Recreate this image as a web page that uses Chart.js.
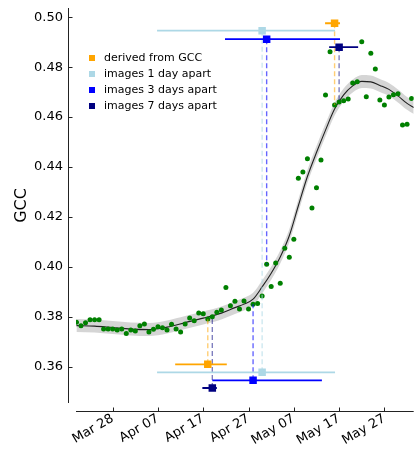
<!DOCTYPE html>
<html>
<head>
<meta charset="utf-8">
<script src="https://cdn.jsdelivr.net/npm/chart.js@4.4.1/dist/chart.umd.min.js"></script>
<style>
  html, body { margin:0; padding:0; background:#fff; }
  #wrap { position:relative; width:419px; height:452px; }
  #legend { position:absolute; left:89px; top:50px; font:11px "DejaVu Sans", sans-serif; color:#000; }
  #legend div { height:15.9px; display:flex; align-items:center; white-space:nowrap; }
  #legend span { display:inline-block; width:6px; height:6px; margin-right:9px; }
</style>
</head>
<body>
<div id="wrap"><canvas id="c" width="419" height="452"></canvas><div id="legend"></div></div>
<script>
// daily GCC observations, first one on Mar 20 (day of year 79)
const firstDay = 79;
const gcc = [
  0.3778, 0.3764, 0.3776, 0.3788, 0.3788, 0.3788, 0.3751, 0.3751, 0.3751, 0.3747,
  0.3751, 0.3733, 0.3747, 0.3743, 0.3764, 0.3771, 0.3739, 0.3750, 0.3760, 0.3756,
  0.3747, 0.3770, 0.3751, 0.3739, 0.3771, 0.3795, 0.3784, 0.3815, 0.3812, 0.3791,
  0.3800, 0.3818, 0.3827, 0.3918, 0.3844, 0.3863, 0.3831, 0.3864, 0.3831, 0.3850,
  0.3854, 0.3884, 0.4011, 0.3922, 0.4016, 0.3935, 0.4075, 0.4039, 0.4111, 0.4355,
  0.4380, 0.4433, 0.4236, 0.4317, 0.4428, 0.4689, 0.4862, 0.4649, 0.4661, 0.4666,
  0.4673, 0.4737, 0.4742, 0.4902, 0.4682, 0.4856, 0.4793, 0.4669, 0.4649, 0.4681,
  0.4690, 0.4694, 0.4568, 0.4571, 0.4675
];

// smoothed fit and its band
const fitDays = [79, 83, 87, 91, 95, 99, 103, 107, 111, 114, 116, 118, 120, 122, 124, 126, 128, 130, 132, 134, 136, 138, 140, 142, 144, 146, 148, 150, 152, 153.5];
const fitGcc  = [0.3765, 0.3763, 0.3757, 0.3751, 0.3749, 0.3759, 0.3777, 0.3795, 0.3815, 0.3837, 0.3851, 0.3871, 0.3920, 0.3975, 0.4040, 0.4125, 0.4245, 0.4362, 0.4458, 0.4548, 0.4632, 0.4689, 0.4725, 0.4743, 0.4741, 0.4727, 0.4711, 0.4685, 0.4655, 0.4638];
const fitLow  = [0.3739, 0.3737, 0.3731, 0.3725, 0.3723, 0.3733, 0.3751, 0.3769, 0.3789, 0.3811, 0.3825, 0.3845, 0.3894, 0.3949, 0.4014, 0.4099, 0.4219, 0.4336, 0.4432, 0.4522, 0.4606, 0.4663, 0.4699, 0.4717, 0.4715, 0.4701, 0.4685, 0.4659, 0.4629, 0.4612];
const fitHigh = [0.3791, 0.3789, 0.3783, 0.3777, 0.3775, 0.3785, 0.3803, 0.3821, 0.3841, 0.3863, 0.3877, 0.3897, 0.3946, 0.4001, 0.4066, 0.4151, 0.4271, 0.4388, 0.4484, 0.4574, 0.4658, 0.4715, 0.4751, 0.4769, 0.4767, 0.4753, 0.4737, 0.4711, 0.4681, 0.4664];

// transition dates per method (start of green-up and end of green-up)
const methods = ['derived from GCC', 'images 1 day apart', 'images 3 days apart', 'images 7 days apart'];
const methodColors = ['#ffa500', '#add8e6', '#0000ff', '#000080'];
const dashColors = ['rgba(255,165,0,0.55)', 'rgba(173,216,230,0.6)', 'rgba(0,0,255,0.6)', 'rgba(0,0,128,0.5)'];
const startDay = [108, 120, 118, 109];
const startVal = [0.3610, 0.3578, 0.3546, 0.3515];
const startLo  = [100.8, 96.8, 109.0, 106.8];
const startHi  = [112.2, 136.1, 133.2, 110.0];
const endDay = [136, 120, 121, 137];
const endVal = [0.4976, 0.4946, 0.4912, 0.4880];
const endLo  = [133.9, 96.8, 111.8, 134.8];
const endHi  = [137.2, 136.1, 137.2, 141.2];

const xTickDays = [87, 97, 107, 117, 127, 137, 147];
const xTickLabels = ['Mar 28', 'Apr 07', 'Apr 17', 'Apr 27', 'May 07', 'May 17', 'May 27'];
const yTicks = [0.36, 0.38, 0.40, 0.42, 0.44, 0.46, 0.48, 0.50];

const FONT = '"DejaVu Sans", sans-serif';

function seg(points, color, width, dash){
  return { type:'line', data:points, borderColor:color, borderWidth:width, borderDash:dash,
           pointRadius:0, fill:false, tension:0 };
}

const datasets = [];
// squares on top
methods.forEach((m,i)=>{
  datasets.push({ type:'line', showLine:false, label:m,
    data:[{x:endDay[i], y:endVal[i]}, {x:startDay[i], y:startVal[i]}],
    pointStyle:'rect', pointRadius:5.3, pointBackgroundColor:methodColors[i],
    pointBorderColor:methodColors[i], pointBorderWidth:0 });
});
// horizontal error bars
methods.forEach((m,i)=>{
  datasets.push(seg([{x:endLo[i], y:endVal[i]}, {x:endHi[i], y:endVal[i]}], methodColors[i], 1.8, []));
  datasets.push(seg([{x:startLo[i], y:startVal[i]}, {x:startHi[i], y:startVal[i]}], methodColors[i], 1.8, []));
});
// dashed connectors down/up to the observation of that day
methods.forEach((m,i)=>{
  datasets.push(seg([{x:endDay[i], y:endVal[i]}, {x:endDay[i], y:gcc[endDay[i]-firstDay]}], dashColors[i], 1.4, [5,3]));
  datasets.push(seg([{x:startDay[i], y:startVal[i]}, {x:startDay[i], y:gcc[startDay[i]-firstDay]}], dashColors[i], 1.4, [5,3]));
});
// observations
datasets.push({ type:'line', showLine:false, data:gcc.map((v,i)=>({x:firstDay+i, y:v})),
  pointRadius:2.5, pointBackgroundColor:'#008000', pointBorderWidth:0 });
// fit line
datasets.push({ type:'line', data:fitDays.map((d,i)=>({x:d, y:fitGcc[i]})),
  borderColor:'#222', borderWidth:1.1, pointRadius:0, cubicInterpolationMode:'monotone' });
// band
datasets.push({ type:'line', data:fitDays.map((d,i)=>({x:d, y:fitHigh[i]})),
  borderWidth:0, borderColor:'rgba(0,0,0,0)', pointRadius:0, cubicInterpolationMode:'monotone',
  fill:'+1', backgroundColor:'rgba(150,150,150,0.4)' });
datasets.push({ type:'line', data:fitDays.map((d,i)=>({x:d, y:fitLow[i]})),
  borderWidth:0, borderColor:'rgba(0,0,0,0)', pointRadius:0, cubicInterpolationMode:'monotone', fill:false });

// offset spines with inward ticks, like the original
const spines = {
  id:'spines',
  afterDraw(chart){
    const {ctx, chartArea:a, scales:{x, y}} = chart;
    const sx = a.left - 8 + 0.5, sy = a.bottom + 8 + 0.5;
    ctx.save();
    ctx.strokeStyle = '#222'; ctx.lineWidth = 1;
    ctx.beginPath();
    ctx.moveTo(sx, a.top); ctx.lineTo(sx, a.bottom);
    ctx.moveTo(a.left, sy); ctx.lineTo(a.right, sy);
    y.ticks.forEach(t=>{ const p = Math.round(y.getPixelForValue(t.value)) + 0.5; ctx.moveTo(sx, p); ctx.lineTo(sx+4, p); });
    x.ticks.forEach(t=>{ const p = Math.round(x.getPixelForValue(t.value)) + 0.5; ctx.moveTo(p, sy); ctx.lineTo(p, sy-4); });
    ctx.stroke();
    ctx.restore();
  }
};

new Chart(document.getElementById('c'), {
  type:'line',
  data:{ datasets },
  options:{
    responsive:false, animation:false, devicePixelRatio:1,
    layout:{ padding:{ top:8, right:0, left:0, bottom:0 } },
    plugins:{ legend:{ display:false }, tooltip:{ enabled:false } },
    scales:{
      x:{ type:'linear', min:78.9, max:153.47,
        grid:{ display:false, drawTicks:false }, border:{ display:false },
        afterBuildTicks:s=>{ s.ticks = xTickDays.map(v=>({value:v})); },
        afterFit:s=>{ s.height = 49; s.paddingLeft = 0; s.paddingRight = 0; },
        ticks:{ autoSkip:false, minRotation:30, maxRotation:30, padding:8, color:'#000',
          font:{ family:FONT, size:13 }, callback:(v,i)=>xTickLabels[i] } },
      y:{ type:'linear', min:0.3455, max:0.5037,
        grid:{ display:false, drawTicks:false }, border:{ display:false },
        afterBuildTicks:s=>{ s.ticks = yTicks.map(v=>({value:v})); },
        afterFit:s=>{ s.width = 76; s.paddingTop = 0; s.paddingBottom = 0; },
        title:{ display:true, text:'GCC', color:'#000', font:{ family:FONT, size:16 }, padding:{ top:12, bottom:0 } },
        ticks:{ padding:13, color:'#000', font:{ family:FONT, size:13 }, callback:v=>v.toFixed(2) } }
    }
  },
  plugins:[spines]
});

document.getElementById('legend').innerHTML = methods.map((m,i)=>
  `<div><span style="background:${methodColors[i]}"></span>${m}</div>`).join('');
</script>
</body>
</html>
